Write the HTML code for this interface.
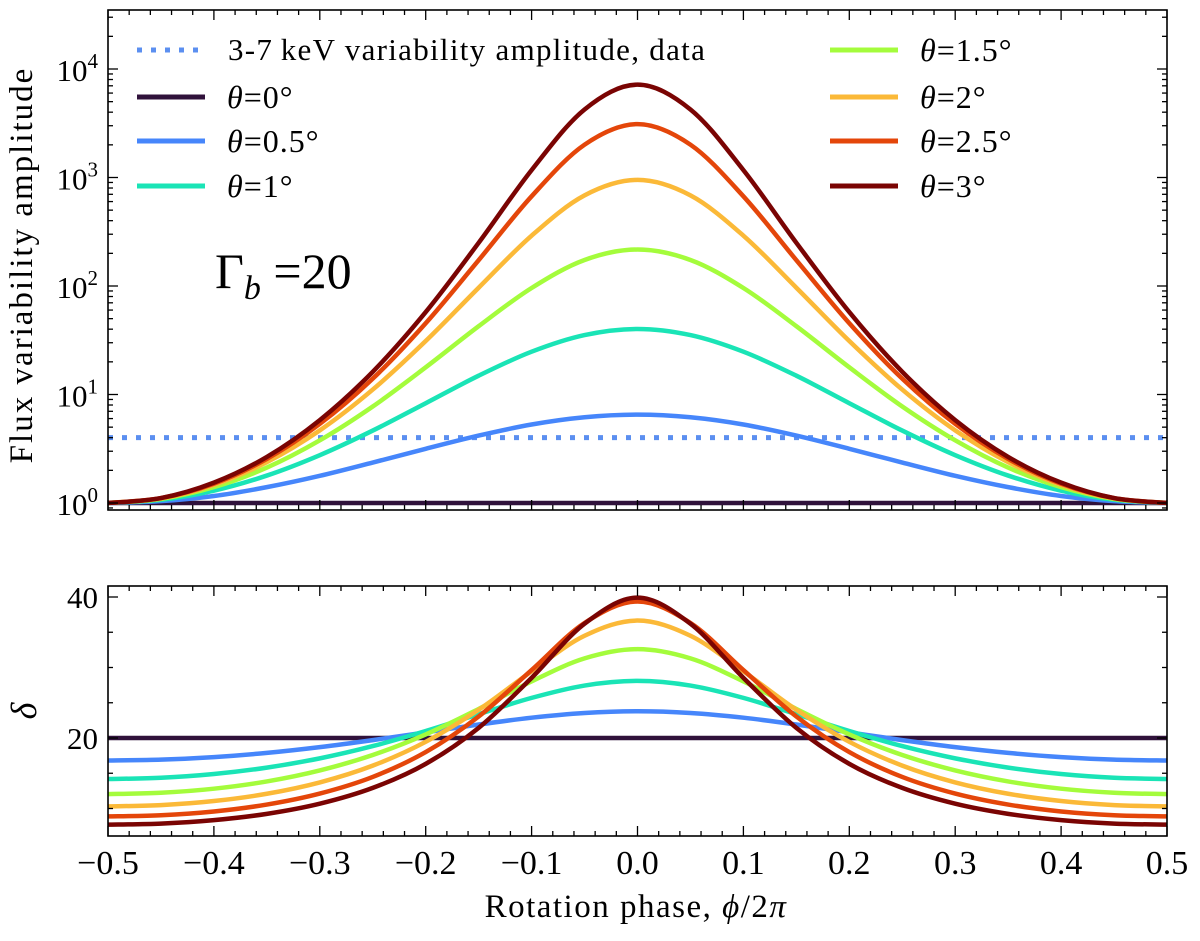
<!DOCTYPE html>
<html><head><meta charset="utf-8"><style>
body{margin:0;background:#fff;}
svg text{font-family:"Liberation Serif",serif;fill:#000;}
</style></head><body>
<svg id="chart" width="1200" height="936" xmlns="http://www.w3.org/2000/svg">
<g id="g"></g>
</svg>
<script>
const phases=[-0.5,-0.45,-0.4,-0.35,-0.3,-0.25,-0.2,-0.15,-0.1,-0.05,0,0.05,0.1,0.15,0.2,0.25,0.3,0.35,0.4,0.45,0.5];
const thetaLabels=["0","0.5","1","1.5","2","2.5","3"];
const colors=["#30123b","#4686fb","#1ae4b6","#a4fc3c","#fbb938","#e4460a","#7a0403"];
const amp0=[1,1,1,1,1,1,1,1,1,1,1,1,1,1,1,1,1,1,1,1,1];
const amp05=[1,1.04,1.16,1.40,1.78,2.36,3.16,4.18,5.29,6.17,6.52,6.17,5.29,4.18,3.16,2.36,1.78,1.40,1.16,1.04,1];
const amp1=[1,1.07,1.30,1.79,2.76,4.65,8.31,14.9,24.8,35.3,40.2,35.3,24.8,14.9,8.31,4.65,2.76,1.79,1.30,1.07,1];
const amp15=[1,1.09,1.40,2.12,3.78,7.75,17.8,42.6,95.9,173.8,216.8,173.8,95.9,42.6,17.8,7.75,3.78,2.12,1.40,1.09,1];
const amp2=[1,1.10,1.47,2.38,4.67,11.1,31.1,96.4,291,684,950,684,291,96.4,31.1,11.1,4.67,2.38,1.47,1.10,1];
const amp25=[1,1.11,1.51,2.55,5.36,14.0,45.4,173,671,2007,3106,2007,671,173,45.4,14.0,5.36,2.55,1.51,1.11,1];
const amp3=[1,1.11,1.54,2.66,5.81,16.2,57.5,250,1170,4239,7172,4239,1170,250,57.5,16.2,5.81,2.66,1.54,1.11,1];
const del0=[20,20,20,20,20,20,20,20,20,20,20,20,20,20,20,20,20,20,20,20,20];
const del05=[16.81,16.93,17.29,17.89,18.71,19.70,20.80,21.91,22.88,23.55,23.79,23.55,22.88,21.91,20.80,19.70,18.71,17.89,17.29,16.93,16.81];
const del1=[14.18,14.36,14.89,15.80,17.11,18.85,20.99,23.37,25.69,27.44,28.10,27.44,25.69,23.37,20.99,18.85,17.11,15.80,14.89,14.36,14.18];
const del15=[12.04,12.23,12.81,13.84,15.40,17.59,20.51,24.12,28.03,31.29,32.60,31.29,28.03,24.12,20.51,17.59,15.40,13.84,12.81,12.23,12.04];
const del2=[10.30,10.48,11.06,12.09,13.70,16.08,19.46,24.00,29.46,34.50,36.66,34.50,29.46,24.00,19.46,16.08,13.70,12.09,11.06,10.48,10.30];
const del25=[8.88,9.05,9.58,10.56,12.12,14.48,18.00,23.05,29.64,36.31,39.36,36.31,29.64,23.05,18.00,14.48,12.12,10.56,9.58,9.05,8.88];
const del3=[7.71,7.86,8.35,9.24,10.68,12.92,16.33,21.44,28.53,36.21,39.91,36.21,28.53,21.44,16.33,12.92,10.68,9.24,8.35,7.86,7.71];
const dataLevel=4;
const xTicks=[-0.5,-0.4,-0.3,-0.2,-0.1,0.0,0.1,0.2,0.3,0.4,0.5];
const xTickLabels=["\u22120.5","\u22120.4","\u22120.3","\u22120.2","\u22120.1","0.0","0.1","0.2","0.3","0.4","0.5"];
const ampDecades=[0,1,2,3,4];
const delTicks=[20,40];

const amps=[amp0,amp05,amp1,amp15,amp2,amp25,amp3];
const dels=[del0,del05,del1,del15,del2,del25,del3];
const L=108,R=1167,T1=10,B1=510,T2=586,B2=836;
const X=v=>L+(v+0.5)*(R-L);
const YA=v=>503-Math.log10(v)*108.5;
const YD=v=>738-(v-20)*7.05;
const NS="http://www.w3.org/2000/svg";
const g=document.getElementById('g');
function mk(tag,attrs,parent){const e=document.createElementNS(NS,tag);for(const k in attrs)e.setAttribute(k,attrs[k]);(parent||g).appendChild(e);return e;}
function smooth(pts){let d="M"+pts[0][0]+","+pts[0][1];for(let i=0;i<pts.length-1;i++){const p0=pts[Math.max(0,i-1)],p1=pts[i],p2=pts[i+1],p3=pts[Math.min(pts.length-1,i+2)];d+=" C"+(p1[0]+(p2[0]-p0[0])/6)+","+(p1[1]+(p2[1]-p0[1])/6)+" "+(p2[0]-(p3[0]-p1[0])/6)+","+(p2[1]-(p3[1]-p1[1])/6)+" "+p2[0]+","+p2[1];}return d;}
g.innerHTML='<clipPath id="cp1"><rect x="'+L+'" y="'+T1+'" width="'+(R-L)+'" height="'+(B1-T1)+'"/></clipPath><clipPath id="cp2"><rect x="'+L+'" y="'+T2+'" width="'+(R-L)+'" height="'+(B2-T2)+'"/></clipPath>';
const s1=mk('g',{'clip-path':'url(#cp1)'});


const dl=mk('line',{x1:L,x2:R,y1:YA(dataLevel),y2:YA(dataLevel),stroke:'#5b8ff0','stroke-width':5,'stroke-dasharray':'5,9'},s1);


amps.forEach((a,k)=>{const p=mk('path',{d:smooth(phases.map((x,i)=>[X(x),YA(a[i])])),fill:'none',stroke:colors[k],'stroke-width':4.5},s1);

});
const s2=mk('g',{'clip-path':'url(#cp2)'});


dels.forEach((a,k)=>{const p=mk('path',{d:smooth(phases.map((x,i)=>[X(x),YD(a[i])])),fill:'none',stroke:colors[k],'stroke-width':4.5},s2);

});
[[T1,B1],[T2,B2]].forEach(([t,b],pi)=>{
 const f=mk('rect',{x:L,y:t,width:R-L,height:b-t,fill:'none',stroke:'#000','stroke-width':1.6});
 
 
 for(let i=0;i<=50;i++){const x=L+i*(R-L)/50;const len=(i%5==0)?10:5;
  mk('line',{x1:x,x2:x,y1:b,y2:b-len,stroke:'#000','stroke-width':1.3});
  mk('line',{x1:x,x2:x,y1:t,y2:t+len,stroke:'#000','stroke-width':1.3});}
});
for(let d=0;d<=4;d++){for(let m=1;m<10;m++){const v=m*Math.pow(10,d);const y=YA(v);if(y<T1)continue;const len=m==1?10:5;
 mk('line',{x1:L,x2:L+len,y1:y,y2:y,stroke:'#000','stroke-width':1.3});mk('line',{x1:R,x2:R-len,y1:y,y2:y,stroke:'#000','stroke-width':1.3});}}
const y09=YA(0.9);mk('line',{x1:L,x2:L+5,y1:y09,y2:y09,stroke:'#000','stroke-width':1.3});mk('line',{x1:R,x2:R-5,y1:y09,y2:y09,stroke:'#000','stroke-width':1.3});
ampDecades.forEach(d=>{const t=mk('text',{x:L-10,y:YA(Math.pow(10,d))+12,'text-anchor':'end','font-size':31});
 t.innerHTML='10<tspan dy="-13" font-size="21">'+d+'</tspan>';
 
 });
for(let v=10;v<=40;v+=5){const y=YD(v);const len=v%20==0?10:5;
 mk('line',{x1:L,x2:L+len,y1:y,y2:y,stroke:'#000','stroke-width':1.3});mk('line',{x1:R,x2:R-len,y1:y,y2:y,stroke:'#000','stroke-width':1.3});}
delTicks.forEach(v=>{const t=mk('text',{x:L-10,y:YD(v)+11,'text-anchor':'end','font-size':31});t.textContent=v;
 
 });
xTicks.forEach((v,i)=>{const t=mk('text',{x:X(v),y:B2+38,'text-anchor':'middle','font-size':34});t.textContent=xTickLabels[i];
 
 });
let t=mk('text',{x:636,y:917,'text-anchor':'middle','font-size':33,'letter-spacing':'1.5'});t.innerHTML='Rotation phase, <tspan font-style="italic">ϕ</tspan>/2<tspan font-style="italic">π</tspan>';


t=mk('text',{x:32,y:265,'text-anchor':'middle','font-size':33,'letter-spacing':'2',transform:'rotate(-90 32 265)'});t.textContent='Flux variability amplitude';


t=mk('text',{x:36,y:711,'text-anchor':'middle','font-size':36,'font-style':'italic',transform:'rotate(-90 36 711)'});t.textContent='δ';


t=mk('text',{x:215,y:288,'font-size':50});t.innerHTML='Γ<tspan font-style="italic" font-size="34" dy="11">b</tspan><tspan dy="-11"> =20</tspan>';


const leg=mk('g',{});


const rowsY=[50,97,141,186];
let e=mk('line',{x1:137,x2:205,y1:rowsY[0],y2:rowsY[0],stroke:'#5b8ff0','stroke-width':5,'stroke-dasharray':'5,9'},leg);


e=mk('text',{x:228,y:rowsY[0]+10,'font-size':31,'letter-spacing':'1.3'},leg);e.textContent='3-7\u2009keV variability amplitude, data';


thetaLabels.forEach((lab,k)=>{const col=k<3?0:1;const row=k<3?k+1:k-3;const x0=col?830:137;const y=rowsY[row];
 const ln=mk('line',{x1:x0,x2:x0+68,y1:y,y2:y,stroke:colors[k],'stroke-width':5},leg);
 
 
 const tx=mk('text',{x:x0+90,y:y+11,'font-size':32,'letter-spacing':'1'},leg);tx.innerHTML='<tspan font-style="italic">θ</tspan>='+lab+'°';
 
 });
</script>
</body></html>
